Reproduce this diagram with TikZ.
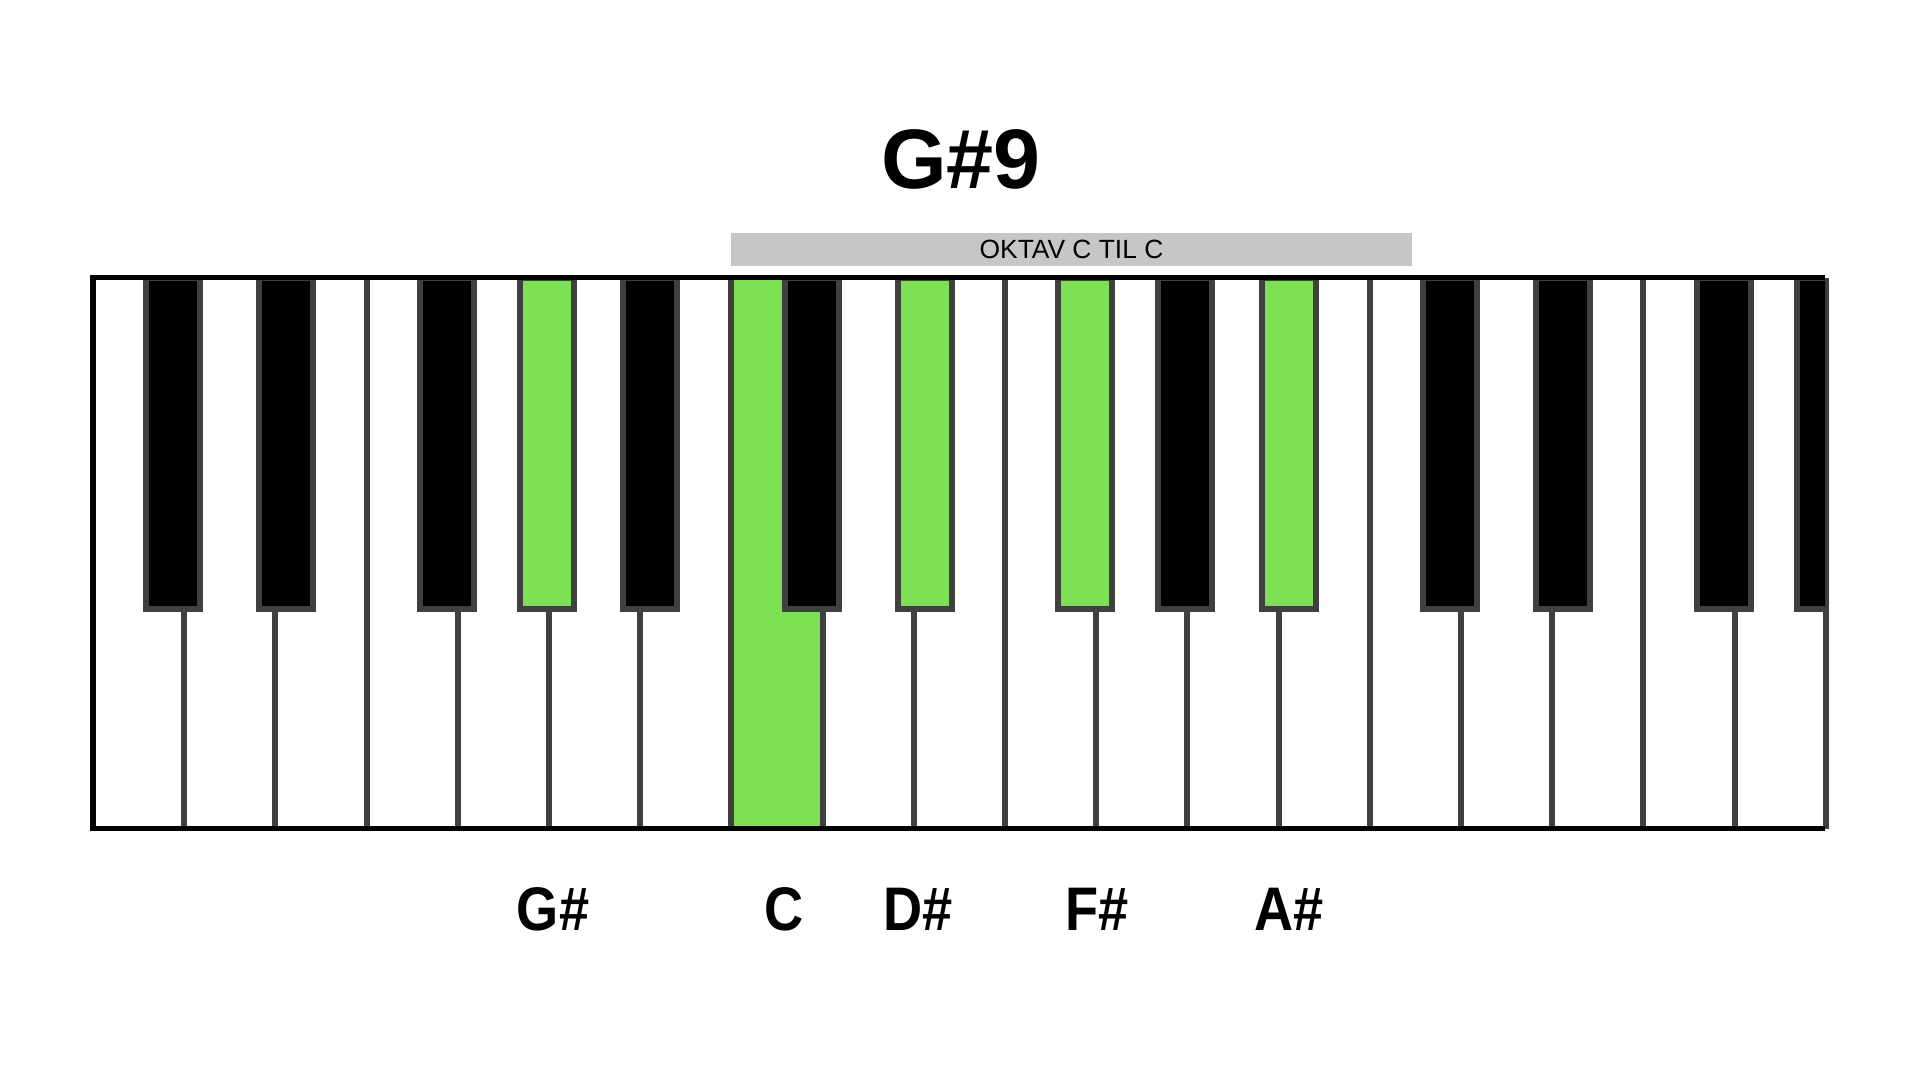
\documentclass[tikz,border=0pt]{standalone}
\usepackage{fontspec}
\setmainfont{Liberation Sans}
\newfontfamily\labelfont[FakeStretch=0.88]{Liberation Sans}
\definecolor{keygreen}{RGB}{125,225,85}
\definecolor{keygray}{RGB}{64,64,64}
\definecolor{bargray}{RGB}{198,198,198}

\begin{document}
\begin{tikzpicture}[
    x=0.01cm, y=-0.01cm,
    keyline/.style={draw=keygray, line width=0.06cm},
    blackkey/.style={draw=keygray, line width=0.06cm, fill=black},
    frameline/.style={draw=black, line width=0.05cm},
    notelabel/.style={font=\labelfont\bfseries\fontsize{17.5}{20}\selectfont, inner sep=0pt}
]
\useasboundingbox (0,0) rectangle (1920,1080);

\node[font=\bfseries\fontsize{24}{28}\selectfont] (title) at (961,159) {G\#9};
\node[fill=bargray, minimum width=6.81cm, minimum height=0.33cm, inner sep=0pt,
      font=\fontsize{7.5}{9}\selectfont] (octave) at (1071.5,249.5) {OKTAV C TIL C};

% white keys
\fill[white] (93,278) rectangle (1825,829);
\fill[keygreen] (731.4,278) rectangle (822.6,829);
\foreach \d in {1,...,19}
    \draw[keyline] ({93+91.2*\d},278) -- ({93+91.2*\d},829);

% black keys
\begin{scope}
\clip (93,278) rectangle (1825,829);
\foreach \d/\o/\c in {1/-11/black, 2/11/black, 4/-11/black, 5/-2/keygreen, 6/10/black,
                      8/-11/black, 9/11/keygreen, 11/-11/keygreen, 12/-2/black, 13/10/keygreen,
                      15/-11/black, 16/11/black, 18/-11/black, 19/-2/black}
    \draw[blackkey, fill=\c] ({93+91.2*\d+\o-27},278) rectangle ({93+91.2*\d+\o+27},609);
\end{scope}
\draw[frameline] (1825,829) -- (93,829) -- (93,278) -- (1825,278);

\node[notelabel] (gsharp) at (553,909) {G\#};
\node[notelabel] (croot)  at (784,909) {C};
\node[notelabel] (dsharp) at (918,909) {D\#};
\node[notelabel] (fsharp) at (1097,909) {F\#};
\node[notelabel] (asharp) at (1289,909) {A\#};
\end{tikzpicture}
\end{document}
